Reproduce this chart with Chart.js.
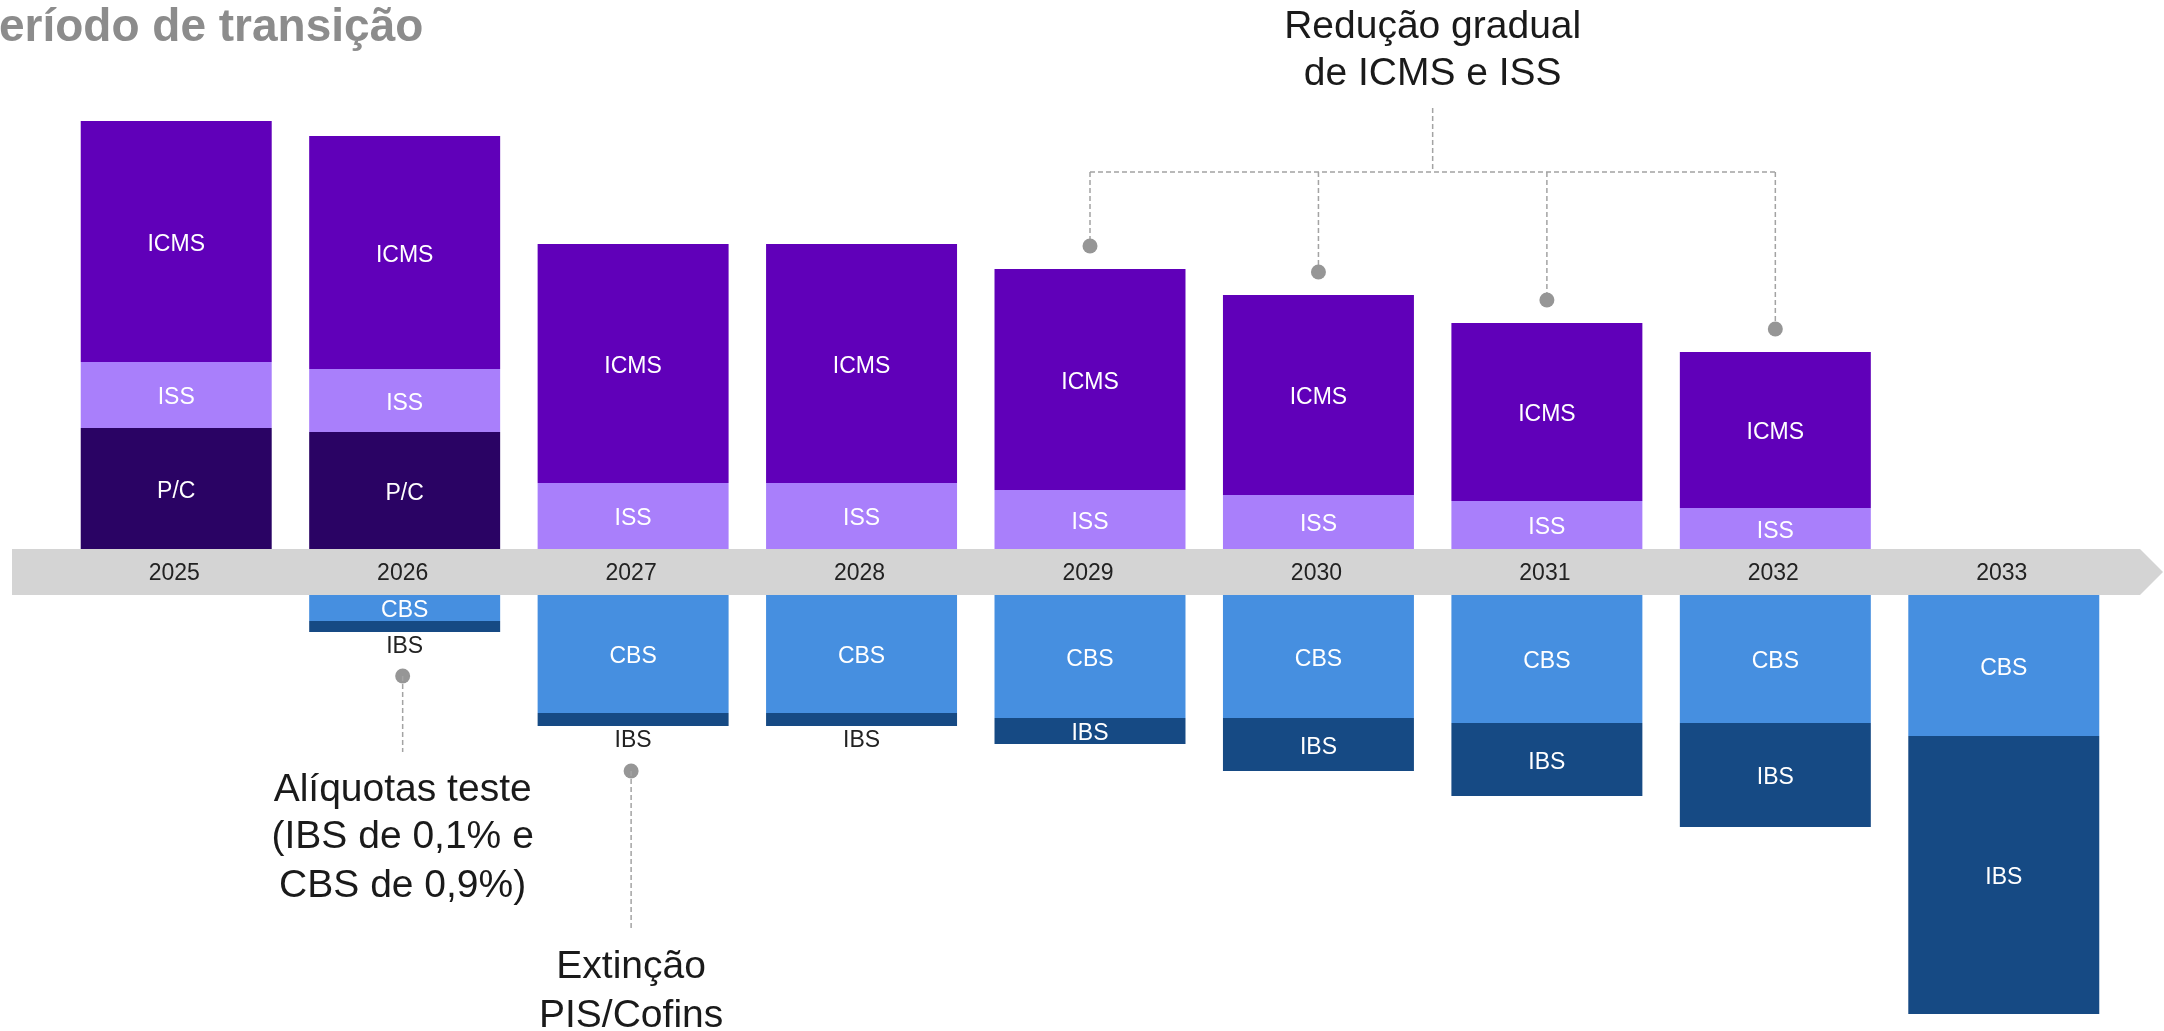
<!DOCTYPE html>
<html>
<head>
<meta charset="utf-8">
<script src="https://cdn.jsdelivr.net/npm/chart.js@4.4.1/dist/chart.umd.min.js"></script>
<style>
    body { margin: 0; background: #ffffff; }
    #grafico { display: block; }
</style>
</head>
<body>
<canvas id="grafico" width="2164" height="1031"></canvas>
<script>
// dados (altura relativa de cada faixa)
var anos = ["2025", "2026", "2027", "2028", "2029", "2030", "2031", "2032", "2033"];
var valoresPC = [12.1, 11.7, null, null, null, null, null, null, null];
var valoresISS = [6.6, 6.3, 6.6, 6.6, 5.9, 5.4, 4.8, 4.1, null];
var valoresICMS = [24.1, 23.3, 23.9, 23.9, 22.1, 20.0, 17.8, 15.6, null];
var valoresCBS = [null, 2.6, 11.8, 11.8, 12.3, 12.3, 12.8, 12.8, 14.1];
var valoresIBS = [null, 1.1, 1.3, 1.3, 2.6, 5.3, 7.3, 10.4, 27.8];
var alturaFaixa = 4.6;

var fonte = '"Liberation Sans", Arial, sans-serif';

function negativo(lista) {
    return lista.map(function (v) { return v === null ? null : -v; });
}

var datosGrafica = {
    labels: anos,
    datasets: [
        { label: "P/C", rotulo: "P/C", data: valoresPC, backgroundColor: "#2A0364" },
        { label: "ISS", rotulo: "ISS", data: valoresISS, backgroundColor: "#A97FFB" },
        { label: "ICMS", rotulo: "ICMS", data: valoresICMS, backgroundColor: "#6000B9" },
        { label: "faixa", data: anos.map(function () { return -alturaFaixa; }), backgroundColor: "rgba(0,0,0,0)" },
        { label: "CBS", rotulo: "CBS", data: negativo(valoresCBS), backgroundColor: "#468FE0" },
        { label: "IBS", rotulo: "IBS", data: negativo(valoresIBS), backgroundColor: "#164A84" }
    ]
};

function tracejado(ctx, x1, y1, x2, y2) {
    ctx.save();
    ctx.strokeStyle = "#A3A3A3";
    ctx.lineWidth = 1.5;
    ctx.setLineDash([5, 3]);
    ctx.beginPath();
    ctx.moveTo(x1, y1);
    ctx.lineTo(x2, y2);
    ctx.stroke();
    ctx.restore();
}

function ponto(ctx, x, y) {
    ctx.save();
    ctx.fillStyle = "#969696";
    ctx.beginPath();
    ctx.arc(x, y, 7.5, 0, Math.PI * 2);
    ctx.fill();
    ctx.restore();
}

function barra(chart, ds, i) {
    return chart.getDatasetMeta(ds).data[i].getProps(["x", "y", "base"], true);
}

var pluginFaixa = {
    id: "faixa",
    beforeDatasetsDraw: function (chart) {
        var ctx = chart.ctx;
        var y = chart.scales.y;
        var topo = y.getPixelForValue(0);
        var fundo = y.getPixelForValue(-alturaFaixa);
        var meio = (topo + fundo) / 2;
        var dir = chart.chartArea.right + 22;
        ctx.save();
        ctx.fillStyle = "#D4D4D4";
        ctx.beginPath();
        ctx.moveTo(12, topo);
        ctx.lineTo(dir, topo);
        ctx.lineTo(dir + (fundo - topo) / 2, meio);
        ctx.lineTo(dir, fundo);
        ctx.lineTo(12, fundo);
        ctx.closePath();
        ctx.fill();
        ctx.fillStyle = "#222222";
        ctx.font = "23px " + fonte;
        ctx.textAlign = "center";
        ctx.textBaseline = "middle";
        for (var i = 0; i < anos.length; i++) {
            ctx.fillText(anos[i], chart.scales.x.getPixelForValue(i) - 2, meio + 2);
        }
        ctx.restore();
    },
    afterDatasetsDraw: function (chart) {
        var ctx = chart.ctx;
        ctx.save();
        ctx.font = "23px " + fonte;
        ctx.textAlign = "center";
        ctx.textBaseline = "middle";
        chart.data.datasets.forEach(function (ds, d) {
            if (!ds.rotulo) return;
            ds.data.forEach(function (v, i) {
                if (v === null) return;
                var b = barra(chart, d, i);
                var h = Math.abs(b.base - b.y);
                if (h < 18) {
                    ctx.fillStyle = "#222222";
                    ctx.fillText(ds.rotulo, b.x, Math.max(b.y, b.base) + 15);
                } else {
                    ctx.fillStyle = "#ffffff";
                    ctx.fillText(ds.rotulo, b.x, (b.y + b.base) / 2 + 3);
                }
            });
        });
        ctx.restore();

        // titulo cortado
        ctx.save();
        ctx.font = "bold 46px " + fonte;
        ctx.fillStyle = "#8C8C8C";
        ctx.textBaseline = "alphabetic";
        var larguraP = ctx.measureText("P").width;
        ctx.fillText("Período de transição", -larguraP - 1, 41);
        ctx.restore();

        // reducao gradual de ICMS e ISS (2029 a 2032)
        var linhaY = 172;
        var primeira = barra(chart, 2, 4);
        var ultima = barra(chart, 2, 7);
        var centro = (primeira.x + ultima.x) / 2;
        for (var i = 4; i <= 7; i++) {
            var b = barra(chart, 2, i);
            tracejado(ctx, b.x, linhaY, b.x, b.y - 23);
            ponto(ctx, b.x, b.y - 23);
        }
        tracejado(ctx, primeira.x, linhaY, ultima.x, linhaY);
        tracejado(ctx, centro, 108, centro, linhaY);
        ctx.save();
        ctx.font = "39px " + fonte;
        ctx.fillStyle = "#1A1A1A";
        ctx.textAlign = "center";
        ctx.fillText("Redução gradual", centro, 38);
        ctx.fillText("de ICMS e ISS", centro, 85);
        ctx.restore();

        // aliquotas teste (2026)
        var b26 = barra(chart, 5, 1);
        var p26 = b26.y + 44;
        ponto(ctx, b26.x - 2, p26);
        tracejado(ctx, b26.x - 2, p26, b26.x - 2, 752);
        ctx.save();
        ctx.font = "39px " + fonte;
        ctx.fillStyle = "#1A1A1A";
        ctx.textAlign = "center";
        ctx.fillText("Alíquotas teste", b26.x - 2, 801);
        ctx.fillText("(IBS de 0,1% e", b26.x - 2, 848);
        ctx.fillText("CBS de 0,9%)", b26.x - 2, 897);
        ctx.restore();

        // extincao PIS/Cofins (2027)
        var b27 = barra(chart, 5, 2);
        var p27 = b27.y + 45;
        ponto(ctx, b27.x - 2, p27);
        tracejado(ctx, b27.x - 2, p27, b27.x - 2, 930);
        ctx.save();
        ctx.font = "39px " + fonte;
        ctx.fillStyle = "#1A1A1A";
        ctx.textAlign = "center";
        ctx.fillText("Extinção", b27.x - 2, 978);
        ctx.fillText("PIS/Cofins", b27.x - 2, 1027);
        ctx.restore();
    }
};

var canvasGraficas = document.getElementById("grafico");
var myBarChart = new Chart(canvasGraficas, {
    type: "bar",
    data: datosGrafica,
    plugins: [pluginFaixa],
    options: {
        responsive: false,
        animation: false,
        devicePixelRatio: 1,
        layout: { padding: { left: 62, right: 46, top: 0, bottom: 0 } },
        datasets: {
            bar: { barPercentage: 0.836, categoryPercentage: 1, borderWidth: 0 }
        },
        plugins: {
            legend: { display: false },
            tooltip: { enabled: false }
        },
        scales: {
            x: { stacked: true, display: false },
            y: { stacked: true, display: false, min: -48.2, max: 54.9 }
        }
    }
});
</script>
</body>
</html>
